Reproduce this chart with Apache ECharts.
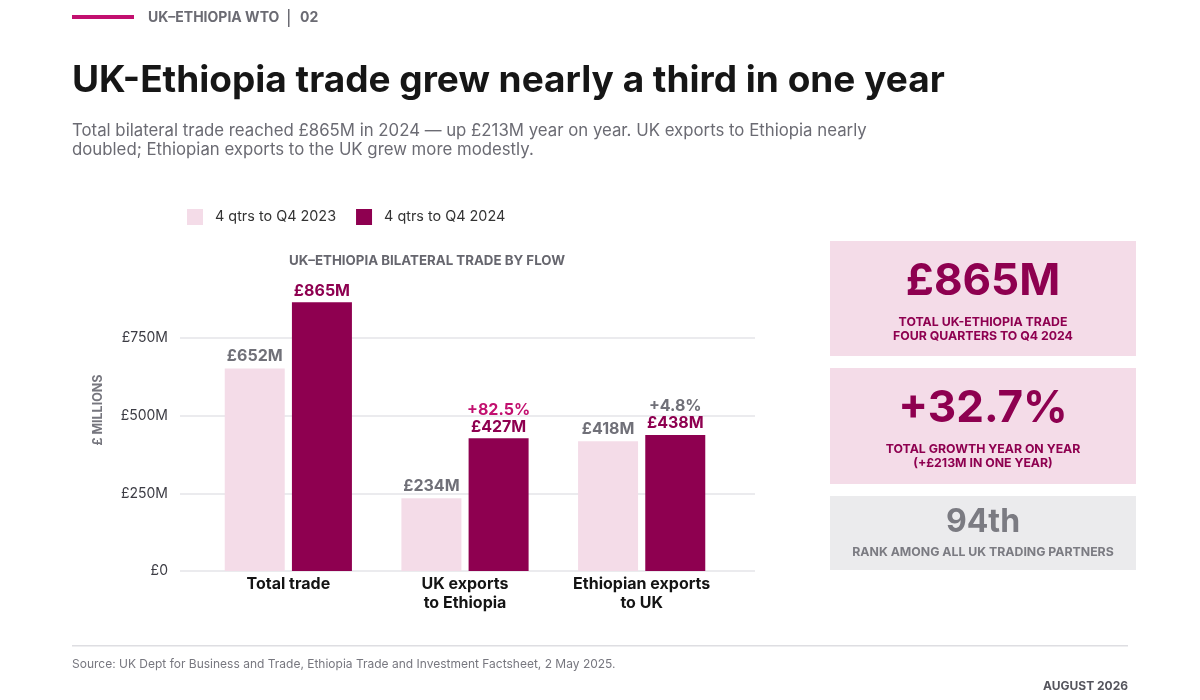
<!DOCTYPE html>
<html>
<head>
<meta charset="utf-8">
<script src="https://cdn.jsdelivr.net/npm/echarts@6/dist/echarts.min.js"></script>
<style>
html,body{margin:0;padding:0;background:#fff;}
#chart{width:1200px;height:700px;}
</style>
</head>
<body>
<div id="chart"></div>
<script>
// ---- data ----
const categories = ['Total trade', 'UK exports\nto Ethiopia', 'Ethiopian exports\nto UK'];
const seriesNames = ['4 qtrs to Q4 2023', '4 qtrs to Q4 2024'];
const values2023 = [652, 234, 418];
const values2024 = [865, 427, 438];
const growthLabels = ['', '+82.5%', '+4.8%'];
const growthStyles = ['', 'up', 'flat'];
const yTicks = [0, 250, 500, 750];
const kpiTotal = '£865M';
const kpiGrowth = '+32.7%';
const kpiRank = '94th';

const FONT = 'Inter, "Noto Sans", sans-serif';
const DARK = '#8e0050';
const LIGHT = '#f4dce8';
const MAG = '#c2106f';
const GRAY = '#6b6b73';

const chart = echarts.init(document.getElementById('chart'), null, {renderer: 'canvas'});

const yMax = 900;

const option = {
  backgroundColor: '#ffffff',
  textStyle: {fontFamily: FONT},
  animation: false,
  title: {
    text: 'UK-Ethiopia trade grew nearly a third in one year',
    left: 72, top: 62, padding: 0,
    textStyle: {fontFamily: FONT, fontSize: 37, fontWeight: 'bold', color: '#161616'}
  },
  legend: {
    data: seriesNames,
    left: 182, top: 204,
    itemWidth: 16, itemHeight: 16, itemGap: 20,
    icon: 'rect',
    textStyle: {fontFamily: FONT, fontSize: 14.4, color: '#333', padding: [0,0,0,7]}
  },
  grid: [
    {left: 180, right: 445, top: 571 - yMax * 0.31067, bottom: 129, containLabel: false},
    {left: 200, width: 530, top: 571 - yMax * 0.31067, bottom: 129, containLabel: false}
  ],
  xAxis: [
    {gridIndex: 0, type: 'value', show: false, min: 0, max: 1},
    {
      gridIndex: 1, type: 'category', data: categories,
      axisLine: {show: false}, axisTick: {show: false},
      axisLabel: {
        margin: 4, fontFamily: FONT, fontSize: 16, fontWeight: 'bold',
        color: '#141414', lineHeight: 19, interval: 0
      }
    }
  ],
  yAxis: [
    {
      gridIndex: 0, type: 'value', min: 0, max: yMax, interval: 250,
      axisLine: {show: false}, axisTick: {show: false},
      axisLabel: {
        showMaxLabel: false, margin: 12, fontFamily: FONT, fontSize: 14, color: '#3c3c44',
        formatter: function (v) {
          if (yTicks.indexOf(v) < 0) return '';
          return v === 0 ? '£0' : '£' + v + 'M';
        }
      },
      splitLine: {show: true, showMaxLine: false, lineStyle: {color: '#e4e4e8', width: 1.5}}
    },
    {gridIndex: 1, type: 'value', min: 0, max: yMax, show: false, splitLine: {show: false}}
  ],
  series: [
    {
      name: seriesNames[0], type: 'bar', xAxisIndex: 1, yAxisIndex: 1,
      data: values2023, barWidth: 60, barGap: '12%',
      itemStyle: {color: LIGHT},
      label: {
        show: true, position: 'top', distance: 4,
        fontFamily: FONT, fontSize: 16, fontWeight: 'bold', color: '#707078',
        formatter: '£{c}M'
      }
    },
    {
      name: seriesNames[1], type: 'bar', xAxisIndex: 1, yAxisIndex: 1,
      data: values2024, barWidth: 60, barGap: '12%',
      itemStyle: {color: DARK},
      label: {
        show: true, position: 'top', distance: 3,
        fontFamily: FONT, fontSize: 16, fontWeight: 'bold', color: DARK, lineHeight: 16,
        formatter: function (p) {
          const g = growthLabels[p.dataIndex];
          const v = '{v|£' + p.value + 'M}';
          return g ? '{' + growthStyles[p.dataIndex] + '|' + g + '}\n' + v : v;
        },
        rich: {
          v: {fontFamily: FONT, fontSize: 16, fontWeight: 'bold', color: DARK, lineHeight: 17},
          up: {fontFamily: FONT, fontSize: 16, fontWeight: 'bold', color: MAG, lineHeight: 17},
          flat: {fontFamily: FONT, fontSize: 16, fontWeight: 'bold', color: '#707078', lineHeight: 17}
        }
      }
    }
  ],
  graphic: [
    // header
    {type: 'rect', shape: {x: 72, y: 15, width: 62, height: 4}, style: {fill: MAG}},
    {type: 'text', x: 148, y: 18, style: {text: 'UK–ETHIOPIA WTO', font: 'bold 14px ' + FONT, fill: GRAY, textVerticalAlign: 'middle'}},
    {type: 'rect', shape: {x: 288, y: 9, width: 1.5, height: 18}, style: {fill: GRAY}},
    {type: 'text', x: 300, y: 18, style: {text: '02', font: 'bold 14px ' + FONT, fill: GRAY, textVerticalAlign: 'middle'}},
    // subtitle
    {type: 'text', x: 72, y: 121, style: {
      text: 'Total bilateral trade reached £865M in 2024 — up £213M year on year. UK exports to Ethiopia nearly\ndoubled; Ethiopian exports to the UK grew more modestly.',
      font: '16.8px ' + FONT, fill: '#6b6b73', lineHeight: 19}},
    // chart inner title
    {type: 'text', x: 427, y: 261, style: {text: 'UK–ETHIOPIA BILATERAL TRADE BY FLOW', font: 'bold 13.3px ' + FONT, fill: '#66666e', textAlign: 'center', textVerticalAlign: 'middle'}},
    // y axis name
    {type: 'text', x: 98, y: 410, rotation: Math.PI / 2, style: {text: '£ MILLIONS', font: 'bold 12.5px ' + FONT, fill: '#76767e', textAlign: 'center', textVerticalAlign: 'middle'}},
    // KPI boxes
    {type: 'rect', shape: {x: 830, y: 241, width: 306, height: 115}, style: {fill: '#f4dce8'}},
    {type: 'text', x: 983, y: 282, style: {text: kpiTotal, font: 'bold 44px ' + FONT, fill: DARK, textAlign: 'center', textVerticalAlign: 'middle'}},
    {type: 'text', x: 983, y: 329, style: {text: 'TOTAL UK-ETHIOPIA TRADE\nFOUR QUARTERS TO Q4 2024', font: 'bold 12.3px ' + FONT, fill: DARK, textAlign: 'center', textVerticalAlign: 'middle', lineHeight: 14}},
    {type: 'rect', shape: {x: 830, y: 368, width: 306, height: 116}, style: {fill: '#f4dce8'}},
    {type: 'text', x: 983, y: 409, style: {text: kpiGrowth, font: 'bold 44px ' + FONT, fill: DARK, textAlign: 'center', textVerticalAlign: 'middle'}},
    {type: 'text', x: 983, y: 456, style: {text: 'TOTAL GROWTH YEAR ON YEAR\n(+£213M IN ONE YEAR)', font: 'bold 12.3px ' + FONT, fill: DARK, textAlign: 'center', textVerticalAlign: 'middle', lineHeight: 14}},
    {type: 'rect', shape: {x: 830, y: 496, width: 306, height: 74}, style: {fill: '#ebebed'}},
    {type: 'text', x: 983, y: 522, style: {text: kpiRank, font: 'bold 32px ' + FONT, fill: '#7b7b82', textAlign: 'center', textVerticalAlign: 'middle'}},
    {type: 'text', x: 983, y: 552, style: {text: 'RANK AMONG ALL UK TRADING PARTNERS', font: 'bold 12.3px ' + FONT, fill: '#7b7b82', textAlign: 'center', textVerticalAlign: 'middle'}},
    // footer
    {type: 'rect', shape: {x: 72, y: 645, width: 1056, height: 1.5}, style: {fill: '#dedee2'}},
    {type: 'text', x: 72, y: 664, style: {text: 'Source: UK Dept for Business and Trade, Ethiopia Trade and Investment Factsheet, 2 May 2025.', font: '12px ' + FONT, fill: '#77777f', textVerticalAlign: 'middle'}},
    {type: 'text', x: 1128, y: 686, style: {text: 'AUGUST 2026', font: 'bold 12px ' + FONT, fill: '#55555d', textAlign: 'right', textVerticalAlign: 'middle'}}
  ]
};
chart.setOption(option);
</script>
</body>
</html>
